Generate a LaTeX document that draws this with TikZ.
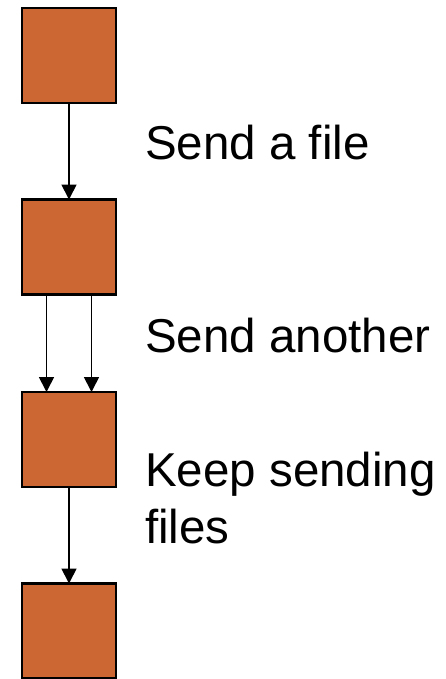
\documentclass[tikz,border=0pt]{standalone}
\usepackage{fontspec}
\setmainfont{Liberation Sans}
\usetikzlibrary{arrows.meta}
\definecolor{boxfill}{RGB}{204,102,51}
\begin{document}
\begin{tikzpicture}[x=1pt,y=-1pt,
  stagebox/.style={draw=black,line width=2.2pt,fill=boxfill,minimum width=94pt,minimum height=95pt,inner sep=0pt,outer sep=0pt},
  arr/.style={line width=1.8pt,-{Triangle[width=15pt,length=15pt]}},
  lbl/.style={anchor=base west,inner sep=0pt,font=\fontsize{47.5pt}{57pt}\selectfont,align=left}]
\useasboundingbox (0,0) rectangle (446,679);
\node[stagebox] (b1) at (69,55.5) {};
\node[stagebox] (b2) at (69,247) {};
\node[stagebox] (b3) at (69,439.5) {};
\node[stagebox] (b4) at (69,631) {};
\draw[arr] (b1.south) -- (b2.north);
\draw[arr] ([xshift=-22.5pt]b2.south) -- ([xshift=-22.5pt]b3.north);
\draw[arr] ([xshift=22.5pt]b2.south) -- ([xshift=22.5pt]b3.north);
\draw[arr] (b3.south) -- (b4.north);
\node[lbl] (t1) at (145,160) {Send a file};
\node[lbl] (t2) at (145,352) {Send another};
\node[lbl] (t3) at (145,543) {Keep sending\\files};
\end{tikzpicture}
\end{document}
